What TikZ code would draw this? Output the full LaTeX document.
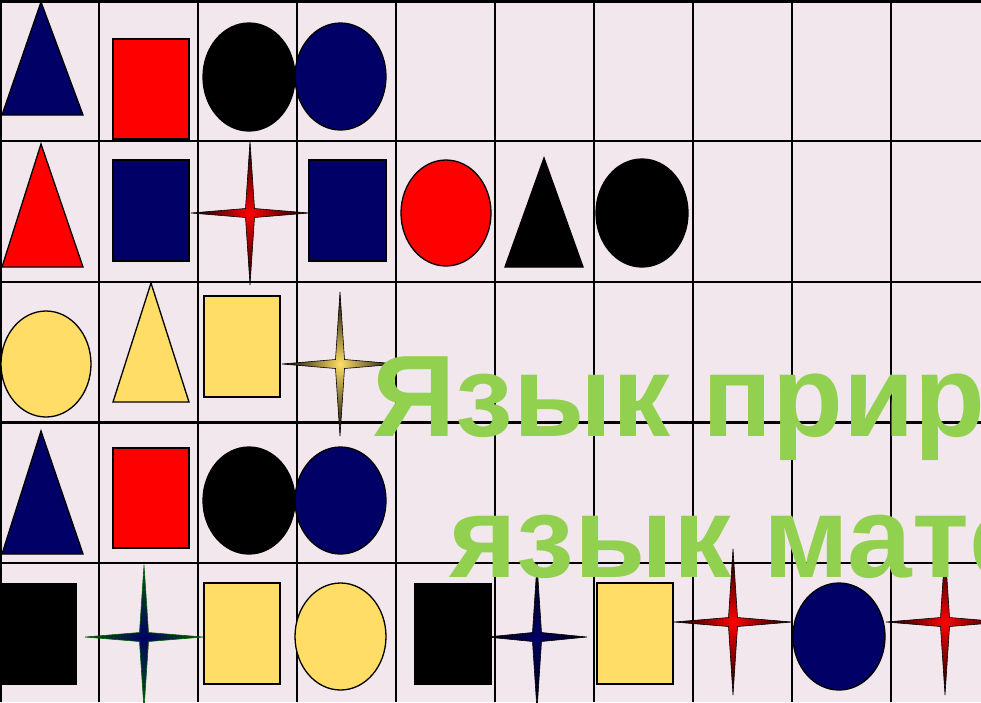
\documentclass[tikz,border=0pt]{standalone}
\usepackage{fontspec}
\setmainfont{Liberation Sans}
\definecolor{bgpink}{RGB}{243,231,238}
\definecolor{navyc}{RGB}{0,0,102}
\definecolor{yellowc}{RGB}{255,221,102}
\definecolor{titlegreen}{RGB}{146,208,80}
\definecolor{darkgreen}{RGB}{0,90,0}
\newcommand{\qstar}[7]{% cx cy halfwidth halfheight innercolor outercolor drawcolor
  \shade[inner color=#5, outer color=#6, draw=#7, line width=0.6pt]
   ({#1+#3},{#2}) -- ({#1+4.5},{#2-4.5}) -- ({#1},{#2-#4}) -- ({#1-4.5},{#2-4.5})
   -- ({#1-#3},{#2}) -- ({#1-4.5},{#2+4.5}) -- ({#1},{#2+#4}) -- ({#1+4.5},{#2+4.5}) -- cycle;}
\begin{document}
\begin{tikzpicture}[x=1pt,y=-1pt,
  gridline/.style={line width=2.2pt, black},
  shapeline/.style={draw=black, line width=1.3pt},
  titletext/.style={anchor=base west, inner sep=0pt, outer sep=0pt, text=titlegreen,
    font=\fontsize{116}{116}\selectfont\bfseries}]
\useasboundingbox (0,0) rectangle (981,702);
\clip (0,0) rectangle (981,702);
\fill[bgpink] (0,0) rectangle (981,702);
% grid
\foreach \gx in {99,198,297,396,495,594,693,792,891}
  \draw[gridline] (\gx,0) -- (\gx,702);
\foreach \gy in {140.8,281.6,422.4,563.2}
  \draw[gridline] (0,\gy) -- (981,\gy);
\draw[line width=3pt] (0,1.5) -- (981,1.5);
\draw[line width=2.5pt] (1.2,0) -- (1.2,702);
% row 0
\draw[shapeline, fill=navyc] (41,2) -- (83,115) -- (2,115) -- cycle;
\draw[shapeline, fill=red] (113,39) rectangle (189,139);
\draw[shapeline, fill=black] (249,77) ellipse [x radius=46pt, y radius=54pt];
\draw[shapeline, fill=navyc] (340.5,76.5) ellipse [x radius=45.5pt, y radius=53.5pt];
% row 1
\draw[shapeline, fill=red] (41,144) -- (83,267) -- (2,267) -- cycle;
\draw[shapeline, fill=navyc] (113,160) rectangle (189,261);
\draw[shapeline, fill=navyc] (309,160) rectangle (386,261);
\draw[shapeline, fill=red] (446,213) ellipse [x radius=45pt, y radius=53pt];
\draw[shapeline, fill=black] (544,158) -- (583,267) -- (505,267) -- cycle;
\draw[shapeline, fill=black] (642,213) ellipse [x radius=46pt, y radius=54pt];
\qstar{250}{213}{59}{72}{red}{black}{black}
% row 2
\draw[shapeline, fill=yellowc] (46,364) ellipse [x radius=45pt, y radius=53pt];
\draw[shapeline, fill=yellowc] (151,283) -- (189,402) -- (113,402) -- cycle;
\draw[shapeline, fill=yellowc] (204,296) rectangle (280,397);
\qstar{340}{364}{58}{72}{yellowc}{black}{black}
% row 3
\draw[shapeline, fill=navyc] (41,431) -- (83,554) -- (2,554) -- cycle;
\draw[shapeline, fill=red] (113,448) rectangle (189,548);
\draw[shapeline, fill=black] (249,500.5) ellipse [x radius=46pt, y radius=53.5pt];
\draw[shapeline, fill=navyc] (340.5,500.5) ellipse [x radius=45.5pt, y radius=53.5pt];
% row 4
\fill[black] (0,583) rectangle (77,685);
\qstar{144}{637}{59}{72}{navyc}{darkgreen}{darkgreen}
\draw[shapeline, fill=yellowc] (204,583) rectangle (280,684);
\draw[shapeline, fill=yellowc] (340.5,636.5) ellipse [x radius=45.5pt, y radius=53.5pt];
\fill[black] (414,583) rectangle (492,685);
\qstar{537}{637}{50}{73}{navyc}{black}{black}
\draw[shapeline, fill=yellowc] (597,583) rectangle (673,684);
\qstar{733}{622}{59}{73}{red}{black}{black}
\draw[shapeline, fill=navyc] (839,636.5) ellipse [x radius=46pt, y radius=53.5pt];
\qstar{945}{622}{59}{73}{red}{black}{black}
% title
\node[titletext] (title1) at (372,436) {Язык природы};
\node[titletext] (title2) at (449,577) {язык математики};
\end{tikzpicture}
\end{document}
